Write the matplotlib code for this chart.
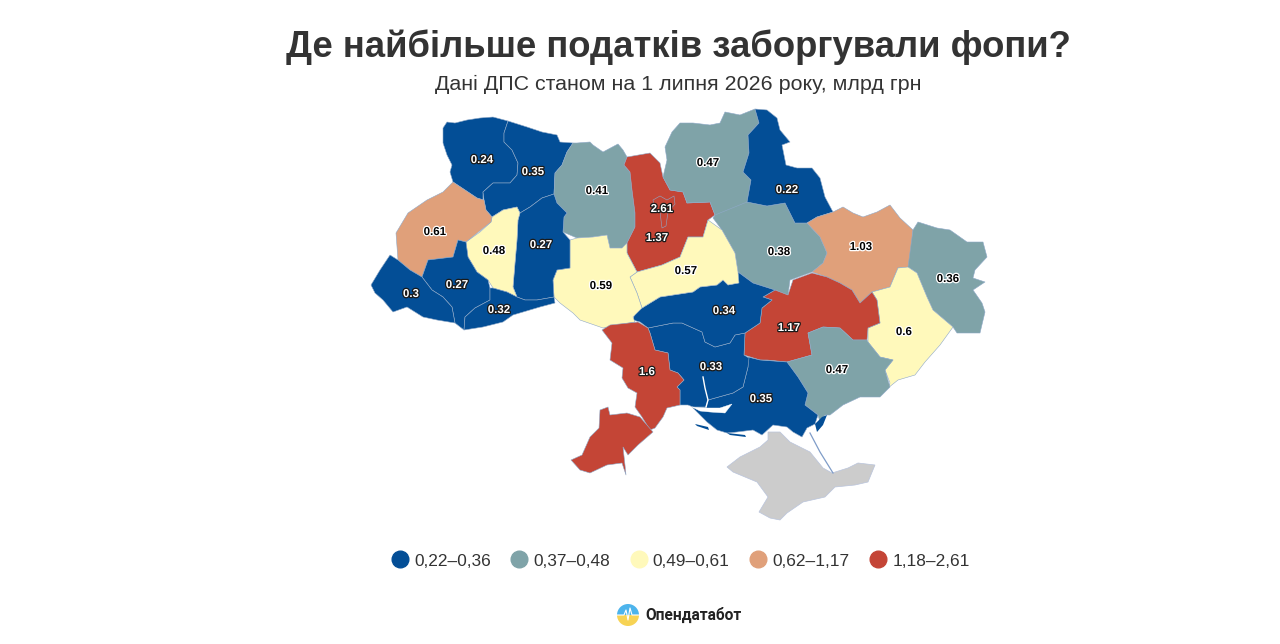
import matplotlib
matplotlib.use("Agg")
import matplotlib.pyplot as plt
import matplotlib.patheffects as pe
from matplotlib.lines import Line2D
from matplotlib.patches import Wedge

plt.rcParams['font.family'] = ['Liberation Sans', 'DejaVu Sans']

title = 'Де найбільше податків заборгували фопи?'
subtitle = 'Дані ДПС станом на 1 липня 2026 року, млрд грн'
bin_labels = ['0,22–0,36', '0,37–0,48', '0,49–0,61', '0,62–1,17', '1,18–2,61']
bin_colors = ['#034e96', '#7fa3a8', '#fff9bb', '#e0a07a', '#c44536']

# region outlines
volyn = [(443,128),(447,122),(455,123),(467,120),(480,118),(493,117),(508,121),(504,133),(504,142),(512,150),(518,163),(517,175),(510,183),(493,183),(483,192),(483,200),(477,198),(465,190),(453,182),(450,172),(452,165),(447,155),(443,143)]
rivne = [(508,121),(527,127),(542,132),(557,135),(560,142),(573,143),(567,152),(562,165),(555,173),(554,194),(542,198),(530,207),(520,213),(517,207),(503,210),(492,217),(486,210),(484,200),(483,192),(493,183),(510,183),(517,175),(518,163),(512,150),(504,142),(504,133)]
zhytomyr = [(573,143),(577,143),(590,142),(593,145),(603,152),(618,144),(623,150),(627,157),(624,165),(630,172),(632,190),(635,213),(635,227),(627,243),(622,248),(610,248),(607,235),(593,237),(577,238),(563,232),(564,217),(567,213),(557,203),(554,194),(555,173),(562,165),(567,152)]
kyiv_obl = [(624,165),(627,157),(650,153),(657,160),(660,163),(663,177),(670,190),(683,192),(687,203),(710,202),(715,215),(708,220),(703,237),(688,237),(680,257),(662,265),(637,272),(627,253),(627,243),(635,227),(635,213),(632,190),(630,172)]
kyiv_city = [(653,200),(660,196),(667,200),(674,196),(675,204),(668,212),(666,226),(662,228),(660,212),(654,206)]
chernihiv = [(665,147),(672,132),(680,123),(693,123),(710,125),(720,123),(725,112),(740,115),(755,109),(759,123),(748,135),(749,153),(743,172),(751,180),(747,202),(722,230),(715,215),(710,202),(687,203),(683,192),(670,190),(663,177),(667,160)]
poltava = [(715,215),(747,202),(767,206),(785,203),(795,223),(807,223),(820,237),(827,253),(823,263),(812,272),(790,280),(788,295),(775,290),(753,283),(738,272),(735,253),(722,230),(713,218)]
sumy = [(755,109),(767,110),(777,118),(780,130),(790,142),(782,145),(783,150),(786,165),(797,168),(812,168),(820,178),(825,197),(833,212),(817,217),(807,223),(795,223),(785,203),(767,206),(747,202),(751,180),(743,172),(749,153),(748,135),(759,123)]
kharkiv = [(807,223),(817,217),(833,212),(843,207),(853,213),(863,217),(877,212),(890,205),(900,218),(913,230),(910,267),(898,268),(890,287),(872,292),(860,303),(852,290),(840,283),(827,277),(812,272),(823,263),(827,253),(820,237)]
luhansk = [(913,230),(918,222),(937,228),(950,230),(967,242),(983,242),(987,257),(975,270),(973,278),(985,282),(973,290),(982,303),(985,312),(980,333),(957,333),(953,327),(933,310),(927,297),(917,273),(908,267)]
donetsk = [(898,268),(908,267),(917,273),(927,297),(933,310),(953,327),(940,345),(925,362),(915,375),(898,380),(888,388),(890,383),(885,370),(893,360),(880,357),(868,342),(868,328),(880,323),(877,300),(872,292),(890,287)]
dnipro = [(745,333),(744,355),(760,360),(767,360),(787,362),(812,355),(808,333),(823,327),(840,328),(853,340),(867,340),(868,328),(880,323),(877,300),(872,292),(860,303),(852,290),(840,283),(827,277),(812,273),(793,280),(788,295),(775,290),(763,297),(772,300),(762,308),(760,323)]
zaporizhzhia = [(808,333),(812,355),(787,362),(798,377),(808,393),(805,405),(818,415),(820,422),(825,415),(830,415),(843,405),(860,397),(880,397),(890,387),(885,370),(893,360),(880,357),(868,342),(867,340),(853,340),(840,328),(823,327)]
kherson = [(748,357),(760,360),(787,362),(798,377),(808,393),(805,405),(818,415),(815,424),(807,428),(802,437),(793,432),(787,427),(773,425),(762,435),(753,430),(737,432),(727,433),(717,430),(707,422),(700,415),(692,407),(706,407),(708,400),(733,393),(743,387),(748,367)]
mykolaiv = [(648,328),(673,323),(682,323),(702,332),(705,342),(715,347),(730,343),(735,335),(745,333),(744,355),(749,358),(748,367),(743,387),(733,393),(708,400),(706,407),(693,407),(688,405),(680,405),(680,390),(677,387),(684,380),(678,373),(670,370),(668,353),(655,350),(650,333)]
kirovohrad = [(660,297),(693,292),(700,287),(717,285),(723,280),(728,285),(738,283),(738,272),(753,283),(775,290),(763,297),(772,300),(762,308),(760,323),(745,333),(735,335),(730,343),(715,347),(705,342),(702,332),(682,323),(673,323),(648,328),(640,322),(633,320),(635,312),(642,308)]
cherkasy = [(708,220),(722,230),(735,253),(738,272),(739,283),(728,285),(723,280),(717,285),(700,287),(693,292),(660,297),(642,308),(637,293),(630,277),(637,272),(662,265),(680,257),(688,237),(703,237)]
vinnytsia = [(557,270),(570,268),(570,240),(577,238),(593,237),(607,235),(610,248),(622,248),(627,243),(627,253),(637,272),(630,277),(637,293),(642,308),(633,317),(635,322),(617,325),(603,328),(580,320),(573,313),(560,303),(554,297),(553,280)]
khmelnytskyi = [(520,213),(530,207),(542,198),(554,194),(557,203),(567,213),(564,217),(563,232),(570,240),(570,268),(557,270),(553,280),(554,297),(537,300),(525,300),(517,297),(513,287),(515,263),(517,240),(518,220)]
ternopil = [(492,217),(503,210),(517,207),(520,213),(518,220),(517,240),(515,263),(513,287),(517,297),(507,292),(493,288),(488,280),(477,272),(468,257),(466,242),(480,232),(491,222)]
lviv = [(453,182),(465,190),(477,198),(484,200),(486,210),(492,217),(491,222),(466,242),(458,240),(453,257),(428,260),(422,277),(410,270),(398,260),(396,233),(408,213),(427,200),(443,192)]
frankivsk = [(458,240),(466,242),(468,257),(477,272),(488,280),(490,288),(490,300),(475,308),(465,317),(464,330),(455,323),(452,307),(443,297),(432,290),(422,277),(428,260),(453,257)]
zakarpattia = [(390,255),(398,260),(410,270),(422,277),(432,290),(443,297),(452,307),(455,323),(437,320),(423,317),(407,307),(393,312),(383,300),(375,293),(371,285),(380,270)]
chernivtsi = [(490,288),(493,288),(507,292),(517,297),(525,300),(537,300),(554,297),(555,303),(540,307),(513,315),(503,322),(483,327),(464,330),(465,317),(475,308),(490,300)]
odesa_north = [(602,330),(610,325),(638,322),(648,328),(650,333),(655,350),(668,353),(670,370),(678,373),(684,380),(677,387),(680,390),(680,405),(667,408),(663,417),(655,428),(650,430),(642,417),(635,407),(637,393),(628,388),(622,378),(623,368),(610,360),(612,343)]
odesa_south = [(600,410),(608,407),(610,415),(627,413),(640,417),(653,432),(638,445),(628,455),(623,447),(625,465),(626,475),(622,463),(607,465),(590,473),(580,470),(571,460),(582,455),(590,437),(599,428)]
crimea = [(727,467),(740,457),(760,447),(768,440),(768,432),(780,432),(790,442),(810,452),(823,468),(832,473),(848,468),(858,463),(875,465),(868,482),(855,485),(835,487),(825,497),(803,502),(787,513),(780,520),(770,518),(759,512),(768,497),(757,482),(733,472)]

regions = [volyn, rivne, zhytomyr, kyiv_obl, kyiv_city, chernihiv, poltava, sumy, kharkiv, luhansk, donetsk,
           dnipro, zaporizhzhia, kherson, mykolaiv, kirovohrad, cherkasy, vinnytsia, khmelnytskyi, ternopil,
           lviv, frankivsk, zakarpattia, chernivtsi, odesa_north, odesa_south]
region_bins = [0, 0, 1, 4, 4, 1, 1, 0, 3, 1, 2, 4, 1, 0, 0, 0, 2, 2, 0, 2, 3, 0, 0, 0, 4, 4]

# estuary, river and small spits in the south
estuary = [(692,407),(707,408),(720,408),(732,404),(725,413),(710,412),(700,411)]
dnipro_river = [(703,377),(705,388),(708,400),(706,407)]
arabat_spit = [(810,433),(820,452),(833,473)]
azov_sliver = [(815,424),(822,417),(827,415),(823,425),(817,432)]
kinburn_spit = [(695,424),(708,427),(709,430),(697,426)]
tendra_spit = [(727,433),(745,435),(746,437),(730,435)]

label_texts = ['0.24','0.35','0.41','2.61','1.37','0.47','0.22','0.61','0.48','0.27','0.59','0.57','0.38','1.03','0.36','0.3','0.27','0.32','0.34','1.17','0.6','0.47','1.6','0.33','0.35']
label_x = [482,533,597,662,657,708,787,435,494,541,601,686,779,861,948,411,457,499,724,789,904,837,647,711,761]
label_y = [160,172,191,209,238,163,190,232,251,245,286,271,252,247,279,294,285,310,311,328,332,370,372,367,399]
label_dark = [0,0,1,0,0,1,0,1,1,0,1,1,1,1,1,0,0,0,0,0,1,1,0,0,0]

fig = plt.figure(figsize=(12.8, 6.44), dpi=100)
ax = fig.add_axes([0, 0, 1, 1])
ax.set_xlim(0, 1280)
ax.set_ylim(644, 0)
ax.axis('off')

for outline, b in zip(regions, region_bins):
    xs, ys = zip(*outline)
    ax.fill(xs, ys, facecolor=bin_colors[b], edgecolor='#8fa9c8', linewidth=0.4, joinstyle='round')

xs, ys = zip(*crimea)
ax.fill(xs, ys, facecolor='#cccccc', edgecolor='#b9c4dc', linewidth=0.5)

xs, ys = zip(*estuary)
ax.fill(xs, ys, facecolor='white', edgecolor='white', linewidth=0.3)
xs, ys = zip(*dnipro_river)
ax.plot(xs, ys, color='white', linewidth=1.0)
for sliver in [azov_sliver, kinburn_spit, tendra_spit]:
    xs, ys = zip(*sliver)
    ax.fill(xs, ys, facecolor=bin_colors[0], edgecolor='none')
xs, ys = zip(*arabat_spit)
ax.plot(xs, ys, color='#7f9cc8', linewidth=0.9)

for txt, x, y, dark in zip(label_texts, label_x, label_y, label_dark):
    fg = 'black' if dark else 'white'
    halo = 'white' if dark else '#1a1a1a'
    ax.text(x, y, txt, ha='center', va='center', fontsize=8.3, fontweight='bold', color=fg,
            path_effects=[pe.withStroke(linewidth=1.8, foreground=halo)])

ax.text(678, 47, title, ha='center', va='center', fontsize=26.3, fontweight='bold', color='#333333')
ax.text(678, 84, subtitle, ha='center', va='center', fontsize=15.4, color='#333333')

handles = [Line2D([], [], linestyle='none', marker='o', markersize=12, color=c) for c in bin_colors]
ax.legend(handles, bin_labels, loc='center', bbox_to_anchor=(676 / 1280, 1 - 561 / 644), ncols=5,
          frameon=False, fontsize=12.4, labelcolor='#333333', handletextpad=-0.17, columnspacing=0.65)

# logo
ax.add_patch(Wedge((628, 615), 11, 180, 360, facecolor='#4db4ec', edgecolor='none'))
ax.add_patch(Wedge((628, 615), 11, 0, 180, facecolor='#f7d354', edgecolor='none'))
ax.plot([617, 624, 626, 628, 630, 632, 639], [615, 615, 610, 620, 608, 615, 615], color='white', linewidth=0.8)
ax.text(645, 615, 'Опендатабот', ha='left', va='center', fontsize=11.2, fontweight='bold', color='#222222',
        family=['Roboto', 'DejaVu Sans'])

fig.savefig('out.png', dpi=100, facecolor='white')
